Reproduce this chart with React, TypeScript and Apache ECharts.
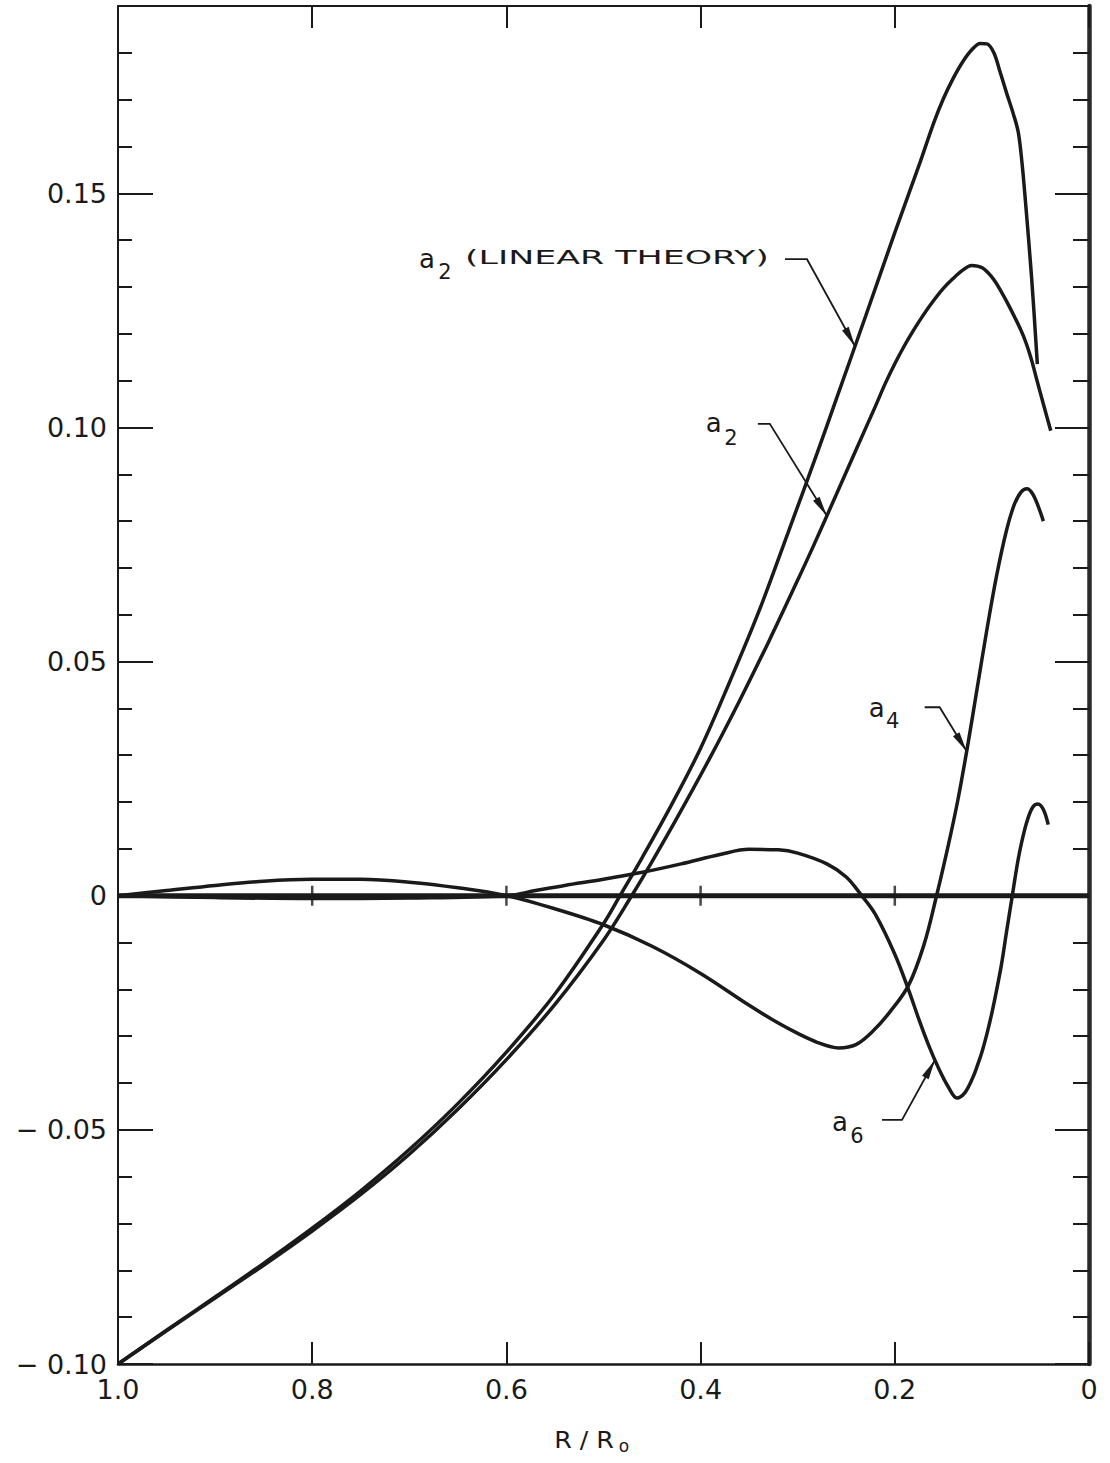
import React, { useEffect, useRef } from "react";
import * as echarts from "echarts";

// ---- data ----
const zeroLineTickX = [0.8, 0.6, 0.4, 0.2];

const linearX = [1.0, 0.95, 0.9, 0.85, 0.8, 0.75, 0.7, 0.65, 0.6, 0.55, 0.5, 0.483, 0.46, 0.43, 0.4, 0.37, 0.34, 0.31, 0.28, 0.26, 0.23, 0.2, 0.175, 0.16, 0.15, 0.14, 0.13, 0.12, 0.112, 0.105, 0.098, 0.0917, 0.085, 0.078, 0.0728, 0.069, 0.0659, 0.059, 0.0532];
const linearY = [-0.1, -0.0928, -0.0857, -0.0785, -0.071, -0.063, -0.0542, -0.0444, -0.0334, -0.021, -0.006, 0, 0.0082, 0.0194, 0.0315, 0.0457, 0.0607, 0.0775, 0.0945, 0.1062, 0.1238, 0.1416, 0.156, 0.165, 0.1702, 0.1745, 0.1781, 0.1808, 0.182, 0.1819, 0.18, 0.176, 0.1715, 0.167, 0.163, 0.1565, 0.1494, 0.1317, 0.1135];

const a2X = [1.0, 0.95, 0.9, 0.85, 0.8, 0.75, 0.7, 0.65, 0.6, 0.55, 0.5, 0.471, 0.45, 0.423, 0.39, 0.36, 0.33, 0.3, 0.284, 0.26, 0.24, 0.22, 0.21, 0.2, 0.19, 0.18, 0.17, 0.16, 0.15, 0.14, 0.13, 0.121, 0.11, 0.1, 0.0917, 0.08, 0.0677, 0.06, 0.0539, 0.047, 0.0394];
const a2Y = [-0.1, -0.0929, -0.0859, -0.0789, -0.0716, -0.0638, -0.0552, -0.0456, -0.035, -0.0232, -0.0095, 0, 0.0073, 0.0171, 0.0296, 0.0416, 0.0542, 0.0674, 0.0746, 0.0858, 0.0952, 0.1045, 0.1093, 0.1136, 0.1175, 0.121, 0.1242, 0.1271, 0.1297, 0.1318, 0.1336, 0.1346, 0.1341, 0.1321, 0.1295, 0.125, 0.1196, 0.115, 0.1103, 0.105, 0.0993];

const a4X = [1.0, 0.95, 0.9, 0.85, 0.8, 0.75, 0.7, 0.65, 0.6, 0.55, 0.5, 0.45, 0.4, 0.35, 0.32, 0.3, 0.28, 0.258, 0.24, 0.222, 0.205, 0.186, 0.17, 0.157, 0.145, 0.135, 0.125, 0.115, 0.105, 0.095, 0.085, 0.077, 0.07, 0.064, 0.058, 0.052, 0.047];
const a4Y = [0, 0.0011, 0.0022, 0.0031, 0.0035, 0.0035, 0.0029, 0.0017, 0, -0.0028, -0.0062, -0.0108, -0.0166, -0.0234, -0.0272, -0.0294, -0.0313, -0.0325, -0.0318, -0.0288, -0.0248, -0.0192, -0.0105, 0, 0.0107, 0.0205, 0.032, 0.0445, 0.057, 0.0685, 0.078, 0.0835, 0.0862, 0.0869, 0.0858, 0.083, 0.08];

const a6X = [1.0, 0.9, 0.8, 0.7, 0.6, 0.57, 0.54, 0.5, 0.46, 0.42, 0.38, 0.35, 0.32, 0.3, 0.27, 0.25, 0.234, 0.22, 0.2, 0.186, 0.175, 0.165, 0.155, 0.145, 0.136, 0.128, 0.12, 0.115, 0.11, 0.105, 0.1, 0.095, 0.09, 0.085, 0.079, 0.074, 0.07, 0.064, 0.058, 0.0525, 0.047, 0.042];
const a6Y = [0, -0.0004, -0.0006, -0.0005, 0, 0.0011, 0.0022, 0.0035, 0.005, 0.0068, 0.0088, 0.0099, 0.0098, 0.0091, 0.0068, 0.004, 0, -0.004, -0.0125, -0.02, -0.0265, -0.032, -0.0368, -0.0408, -0.0432, -0.0421, -0.039, -0.0363, -0.0332, -0.0294, -0.025, -0.02, -0.0145, -0.0078, 0, 0.0065, 0.0108, 0.0158, 0.0189, 0.0196, 0.0184, 0.0152];

const zip = (xs: number[], ys: number[]) => xs.map((x, i) => [x, ys[i]]);
const interp = (xs: number[], ys: number[], x: number) => {
  for (let i = 1; i < xs.length; i++) {
    const x0 = xs[i - 1], x1 = xs[i];
    if ((x - x0) * (x - x1) <= 0) {
      const t = (x - x0) / (x1 - x0);
      return ys[i - 1] + t * (ys[i] - ys[i - 1]);
    }
  }
  return ys[ys.length - 1];
};

const INK = "#1a1a1a";
const FONT = '"DejaVu Sans", "Noto Sans", sans-serif';

export default function App() {
  const ref = useRef<HTMLDivElement>(null);
  useEffect(() => {
    document.body.style.margin = "0";
    const chart = echarts.init(ref.current!, null, { renderer: "svg" });

    const yLabel = (v: number) => {
      const r = Math.round(v * 100);
      if (r % 5 !== 0) return "";
      if (r === 0) return "0";
      return (r < 0 ? "− " : "") + (Math.abs(r) / 100).toFixed(2);
    };
    const xLabel = (v: number) => {
      if (Math.abs(v - 1) < 1e-9) return "1.0";
      if (Math.abs(v) < 1e-9) return "0";
      return v.toFixed(1);
    };

    const gridRect = { left: 118, right: 21, top: 6, bottom: 99, containLabel: false };
    const yBase = { type: "value", min: -0.1, max: 0.19, splitLine: { show: false } };
    const curve = (data: number[][]) => ({
      type: "line",
      xAxisIndex: 0,
      yAxisIndex: 0,
      data,
      showSymbol: false,
      symbol: "none",
      smooth: 0.35,
      lineStyle: { color: INK, width: 3.5 },
      z: 3,
    });

    chart.setOption({
      animation: false,
      backgroundColor: "#ffffff",
      grid: [gridRect, gridRect],
      xAxis: [
        {
          gridIndex: 0, type: "value", min: 0, max: 1, interval: 0.2, inverse: true, position: "bottom",
          axisLine: { show: true, onZero: false, lineStyle: { color: INK, width: 2.5 } },
          axisTick: { show: true, inside: true, length: 22, lineStyle: { color: INK, width: 2 } },
          axisLabel: { formatter: xLabel, fontSize: 27, fontFamily: FONT, color: INK, margin: 12 },
          splitLine: { show: false },
        },
        {
          gridIndex: 0, type: "value", min: 0, max: 1, interval: 0.2, inverse: true, position: "top",
          axisLine: { show: true, onZero: false, lineStyle: { color: INK, width: 2 } },
          axisTick: { show: true, inside: true, length: 22, lineStyle: { color: INK, width: 2 } },
          axisLabel: { show: false },
          splitLine: { show: false },
        },
        {
          gridIndex: 1, type: "value", min: 0, max: 1, inverse: true, show: false,
          axisLine: { onZero: false },
        },
      ],
      yAxis: [
        {
          ...yBase, gridIndex: 0, interval: 0.05, position: "left",
          axisLine: { show: true, onZero: false, lineStyle: { color: INK, width: 2 } },
          axisTick: { show: true, inside: true, length: 35, lineStyle: { color: INK, width: 2 } },
          axisLabel: { formatter: yLabel, fontSize: 27, fontFamily: FONT, color: INK, margin: 11, showMaxLabel: false },
        },
        {
          ...yBase, gridIndex: 0, interval: 0.05, position: "right",
          axisLine: { show: true, onZero: false, lineStyle: { color: "#2a2a2a", width: 4.5 } },
          axisTick: { show: true, inside: true, length: 34, lineStyle: { color: INK, width: 2 } },
          axisLabel: { show: false },
        },
        {
          ...yBase, gridIndex: 1, interval: 0.01, position: "left",
          axisLine: { show: false, onZero: false },
          axisTick: { show: true, inside: true, length: 14, lineStyle: { color: INK, width: 2 } },
          axisLabel: { show: false },
        },
        {
          ...yBase, gridIndex: 1, interval: 0.01, position: "right",
          axisLine: { show: false, onZero: false },
          axisTick: { show: true, inside: true, length: 16, lineStyle: { color: INK, width: 2 } },
          axisLabel: { show: false },
        },
      ],
      series: [
        {
          type: "line", xAxisIndex: 0, yAxisIndex: 0, data: [[1, 0], [0, 0]], symbol: "none",
          lineStyle: { color: INK, width: 5 }, z: 2,
        },
        {
          type: "scatter", xAxisIndex: 0, yAxisIndex: 0, data: zeroLineTickX.map((x) => [x, 0]), symbol: "rect",
          symbolSize: [2.5, 20], itemStyle: { color: INK }, z: 2,
        },
        curve(zip(linearX, linearY)),
        curve(zip(a2X, a2Y)),
        curve(zip(a4X, a4Y)),
        curve(zip(a6X, a6Y)),
      ],
    });

    const px = (x: number, y: number) =>
      chart.convertToPixel({ xAxisIndex: 0, yAxisIndex: 0 }, [x, y]) as number[];

    const g: any[] = [];
    const leader = (tip: number[], elbow: number[], start: number[]) => {
      const T = tip;
      const E = [T[0] + elbow[0], T[1] + elbow[1]];
      const S = [T[0] + start[0], T[1] + start[1]];
      g.push({
        type: "polyline",
        shape: { points: [S, E, T] },
        style: { stroke: INK, lineWidth: 1.8, fill: null },
        z: 10,
      });
      const dx = T[0] - E[0], dy = T[1] - E[1];
      const len = Math.hypot(dx, dy);
      const ux = dx / len, uy = dy / len;
      const L = 20, W = 3.8;
      const bx = T[0] - ux * L, by = T[1] - uy * L;
      g.push({
        type: "polygon",
        shape: { points: [T, [bx - uy * W, by + ux * W], [bx + uy * W, by - ux * W]] },
        style: { fill: INK },
        z: 10,
      });
    };
    const txt = (x: number, y: number, text: string, size: number, align = "center", scaleX = 1) => {
      g.push({
        type: "text", x, y, scaleX, z: 10,
        style: {
          text, font: `${size}px ${FONT}`, fill: INK,
          align, textAlign: align, verticalAlign: "middle", textVerticalAlign: "middle",
        },
      });
    };
    const label = (tip: number[], aOff: number[], subOff: number[], sub: string) => {
      txt(tip[0] + aOff[0], tip[1] + aOff[1], "a", 26);
      txt(tip[0] + subOff[0], tip[1] + subOff[1], sub, 21);
    };

    // a2 (linear theory)
    const tLin = px(0.241, interp(linearX, linearY, 0.241));
    leader(tLin, [-48, -87], [-70, -87]);
    label(tLin, [-428, -87], [-410, -74], "2");
    txt(tLin[0] - 390, tLin[1] - 89, "(LINEAR THEORY)", 20, "left", 1.74);

    // a2
    const tA2 = px(0.27, interp(a2X, a2Y, 0.27));
    leader(tA2, [-57, -92], [-69, -92]);
    label(tA2, [-113, -93], [-96, -78], "2");

    // a4
    const tA4 = px(0.126, interp(a4X, a4Y, 0.126));
    leader(tA4, [-27, -44], [-42, -44]);
    label(tA4, [-90, -43], [-74, -30], "4");

    // a6
    const tA6 = px(0.1586, interp(a6X, a6Y, 0.1586));
    leader(tA6, [-33, 60], [-53, 60]);
    label(tA6, [-95, 62], [-78, 76], "6");

    // axis title R/Ro
    txt(584, 1440, "R / R", 23, "center", 1.1);
    txt(624, 1446, "o", 17, "center");

    chart.setOption({ graphic: g });

    return () => chart.dispose();
  }, []);

  return <div ref={ref} style={{ width: 1110, height: 1463 }} />;
}
